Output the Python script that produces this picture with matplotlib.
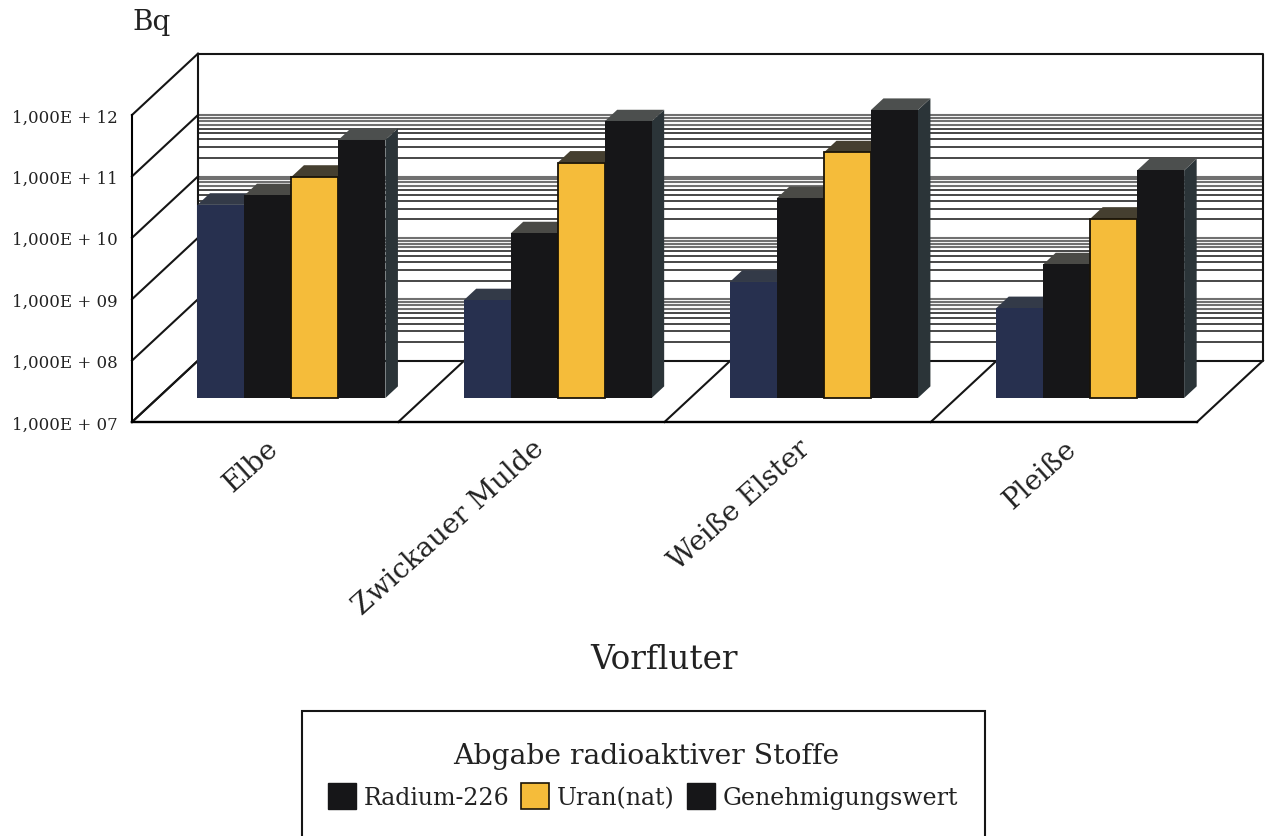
import matplotlib
matplotlib.use('Agg')
import matplotlib.pyplot as plt
from matplotlib.patches import Patch, Rectangle
from matplotlib.ticker import NullLocator

# --- data (Bq per receiving water) ---
vorfluter = ['Elbe', 'Zwickauer Mulde', 'Weiße Elster', 'Pleiße']
reihe_blau = [1.4e10, 3.9e8, 7.8e8, 2.9e8]
radium_226 = [2.0e10, 4.8e9, 1.8e10, 1.5e9]
uran_nat = [4.0e10, 6.8e10, 1.0e11, 8.3e9]
genehmigungswert = [1.6e11, 3.2e11, 4.9e11, 5.1e10]
y_ticks = [1e7, 1e8, 1e9, 1e10, 1e11, 1e12]
y_tick_labels = ['1,000E + 07', '1,000E + 08', '1,000E + 09',
                 '1,000E + 10', '1,000E + 11', '1,000E + 12']
legend_labels = ['Radium-226', 'Uran(nat)', 'Genehmigungswert']

# --- style ---
FONT = 'DejaVu Serif'
BLAU = '#27304f'
SCHWARZ = '#161618'
GELB = '#f5bc3a'
LINIE = '#151515'
W, H = 1271, 837

# oblique depth: depth 1 moves a point right by SHEAR and up by one decade
SHEAR = 66 / 266.25
BAR_DEPTH = 0.39
BAR_THICK = 0.19
BAR_START = 0.149
BAR_W = 0.1765


def project(x, y, d):
    return x + d * SHEAR, y * 10 ** d


def draw_wall(ax):
    """back wall, side wall and floor"""
    x0, _ = project(0, 1, 1)
    x1, _ = project(4, 1, 1)
    for k in range(9, 13):
        base = 10 ** k
        # the densest grid lines merge into a grey band
        ax.hlines([base * m for m in (0.99, 0.9, 0.8, 0.7)], x0, x1, color='#707070',
                  lw=1.5, clip_on=False, zorder=1)
        ax.hlines([base * m for m in (0.6, 0.5, 0.4, 0.3, 0.2)], x0, x1, color=LINIE,
                  lw=1.1, clip_on=False, zorder=1)
    ax.plot([x0, x1, x1, x0, x0], [1e13, 1e13, 1e8, 1e8, 1e13], color=LINIE, lw=1.5,
            clip_on=False, zorder=2)
    for tick in y_ticks:
        bx, by = project(0, tick, 1)
        ax.plot([0, bx], [tick, by], color=LINIE, lw=1.5, clip_on=False, zorder=2)
    for k in range(5):
        bx, by = project(k, 1e7, 1)
        ax.plot([k, bx], [1e7, by], color=LINIE, lw=1.5, clip_on=False, zorder=2)


def draw_series(ax, values, slot, face, side, top, edge=None):
    """one bar per category: front through ax.bar, side and top as polygons"""
    z = 3 + slot
    scale = 10 ** BAR_DEPTH
    for k, val in enumerate(values):
        left = k + BAR_START + slot * BAR_W
        fx, base = project(left, 1e7, BAR_DEPTH)
        _, front_top = project(left, val, BAR_DEPTH)
        bx0, back_base = project(left + BAR_W, 1e7, BAR_DEPTH + BAR_THICK)
        bx1, back_top = project(left + BAR_W, val, BAR_DEPTH + BAR_THICK)
        bx2, _ = project(left, val, BAR_DEPTH + BAR_THICK)
        ax.fill([fx + BAR_W, bx0, bx1, fx + BAR_W], [base, back_base, back_top, front_top],
                color=side, lw=0, clip_on=False, zorder=z)
        ax.fill([fx, fx + BAR_W, bx1, bx2], [front_top, front_top, back_top, back_top],
                color=top, lw=0, clip_on=False, zorder=z)
        ax.bar(fx, val * scale - base, BAR_W, bottom=base, align='edge', color=face,
               edgecolor=edge if edge else face, linewidth=1.3 if edge else 0,
               clip_on=False, zorder=z + 0.5)


def main():
    plt.rcParams['font.family'] = [FONT, 'DejaVu Sans']
    fig = plt.figure(figsize=(W / 100, H / 100), dpi=100, facecolor='white')
    ax = fig.add_axes([132 / W, (H - 423) / H, 1065 / W, 307 / H])
    ax.set_yscale('log')

    draw_wall(ax)
    draw_series(ax, reihe_blau, 0, BLAU, '#1d2a45', '#333a48')
    draw_series(ax, radium_226, 1, SCHWARZ, '#23262f', '#4a4a46')
    draw_series(ax, uran_nat, 2, GELB, '#2a2a2a', '#453f30', edge='#1a1408')
    draw_series(ax, genehmigungswert, 3, SCHWARZ, '#2b3438', '#4c4f4e')

    ax.set_xlim(0, 4)
    ax.set_ylim(1e7, 1e12)
    ax.spines['top'].set_visible(False)
    ax.spines['right'].set_visible(False)
    ax.spines['left'].set_linewidth(1.5)
    ax.spines['bottom'].set_linewidth(1.7)
    ax.patch.set_alpha(0)

    ax.set_yticks(y_ticks)
    ax.set_yticklabels(y_tick_labels, fontsize=12, color='#222222')
    ax.yaxis.set_minor_locator(NullLocator())
    ax.tick_params(axis='y', length=0, pad=10)

    ax.set_xticks([k + 0.5 for k in range(4)])
    ax.set_xticklabels(vorfluter, rotation=42, ha='right', va='top', rotation_mode='anchor',
                       fontsize=20, color='#222222')
    ax.tick_params(axis='x', length=0, pad=9)

    fig.text(132 / W, 1 - 23 / H, 'Bq', fontsize=20, color='#222222', va='center', ha='left')
    fig.text(664 / W, 1 - 660 / H, 'Vorfluter', fontsize=23.5, color='#222222', va='center', ha='center')

    # legend frame runs off the lower edge of the page
    fig.add_artist(Rectangle((302 / W, -0.01), 683 / W, (H - 712) / H + 0.01, transform=fig.transFigure,
                             facecolor='white', edgecolor=LINIE, lw=1.5))
    fig.text(646 / W, 1 - 757 / H, 'Abgabe radioaktiver Stoffe', fontsize=20.3, color='#222222',
             va='center', ha='center')
    handles = [Patch(facecolor=SCHWARZ, edgecolor=SCHWARZ),
               Patch(facecolor=GELB, edgecolor='#1a1408', lw=1.2),
               Patch(facecolor=SCHWARZ, edgecolor=SCHWARZ)]
    fig.legend(handles, legend_labels, ncol=3, frameon=False, fontsize=17, labelcolor='#222222',
               loc='center', bbox_to_anchor=(643 / W, 1 - 797 / H), handlelength=1.18, handleheight=1.3,
               handletextpad=0.34, columnspacing=0.5)

    fig.savefig('out.png', dpi=100)
    plt.close(fig)


if __name__ == "__main__":
    main()
